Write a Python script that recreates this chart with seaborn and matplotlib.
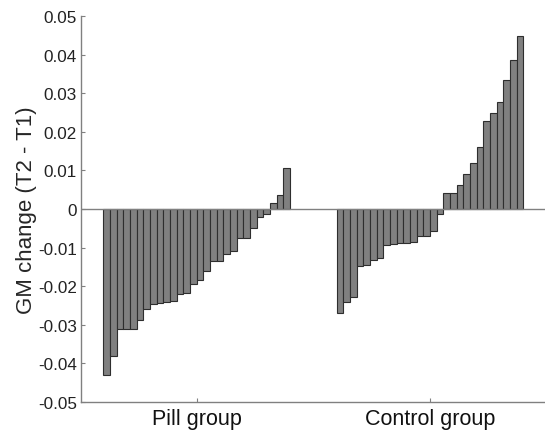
import numpy as np
import pandas as pd
import matplotlib
matplotlib.use("Agg")
import matplotlib.pyplot as plt
import seaborn as sns

# GM change per subject, sorted
pill_values = [-0.0430, -0.0380, -0.0311, -0.0311, -0.0311, -0.0288, -0.0259,
               -0.0246, -0.0243, -0.0240, -0.0238, -0.0220, -0.0218, -0.0194,
               -0.0184, -0.0161, -0.0136, -0.0134, -0.0117, -0.0110, -0.0076,
               -0.0074, -0.0049, -0.0022, -0.0013, 0.0016, 0.0036, 0.0105]
control_values = [-0.0270, -0.0240, -0.0229, -0.0147, -0.0145, -0.0133, -0.0127,
                  -0.0092, -0.0091, -0.0089, -0.0087, -0.0086, -0.0070, -0.0069,
                  -0.0058, -0.0014, 0.0041, 0.0042, 0.0063, 0.0090, 0.0118,
                  0.0160, 0.0227, 0.0248, 0.0278, 0.0334, 0.0386, 0.0447]
group_labels = ["Pill group", "Control group"]
y_ticks = [-0.05, -0.04, -0.03, -0.02, -0.01, 0, 0.01, 0.02, 0.03, 0.04, 0.05]
y_ticklabels = ["-0.05", "-0.04", "-0.03", "-0.02", "-0.01", "0",
                "0.01", "0.02", "0.03", "0.04", "0.05"]

sns.set_style("white")
plt.rcParams["font.family"] = ["Liberation Sans", "DejaVu Sans"]

# bar positions: the two groups separated by a gap of 7 slots
gap = 7
pill_pos = np.arange(len(pill_values))
ctrl_pos = np.arange(len(control_values)) + len(pill_values) + gap
df = pd.DataFrame({
    "pos": np.concatenate([pill_pos, ctrl_pos]),
    "value": pill_values + control_values,
})

fig = plt.figure(figsize=(5.45, 4.35), dpi=100)
ax = fig.add_axes([81 / 545, 1 - 403 / 435, 1 - 81 / 545, (403 - 17) / 435])

sns.barplot(data=df, x="pos", y="value", native_scale=True, width=1.0,
            color="#808080", saturation=1, edgecolor="#2e2e2e",
            linewidth=0.8, ax=ax)

ax.axhline(0, color="#808080", linewidth=1.0, zorder=3)

ax.set_xlim(-3.84, 65.76)
ax.set_ylim(-0.05, 0.05)
ax.set_yticks(y_ticks)
ax.set_yticklabels(y_ticklabels, fontsize=12.3)
ax.set_xticks([pill_pos.mean(), ctrl_pos.mean()])
ax.set_xticklabels(group_labels, fontsize=15.5)
ax.set_xlabel("")
ax.set_ylabel("GM change (T2 - T1)", fontsize=16, labelpad=1)

ax.tick_params(axis="both", direction="in", length=3, width=0.8,
               color="#808080", colors="#222222")
ax.tick_params(axis="x", pad=4, labelcolor="#111111")
ax.tick_params(axis="y", pad=3, labelcolor="#222222")
ax.yaxis.set_ticks_position("left")
ax.xaxis.set_ticks_position("bottom")

for side in ["top", "right"]:
    ax.spines[side].set_visible(False)
for side in ["left", "bottom"]:
    ax.spines[side].set_color("#808080")
    ax.spines[side].set_linewidth(1.0)

fig.savefig("out.png", dpi=100)
plt.close(fig)
